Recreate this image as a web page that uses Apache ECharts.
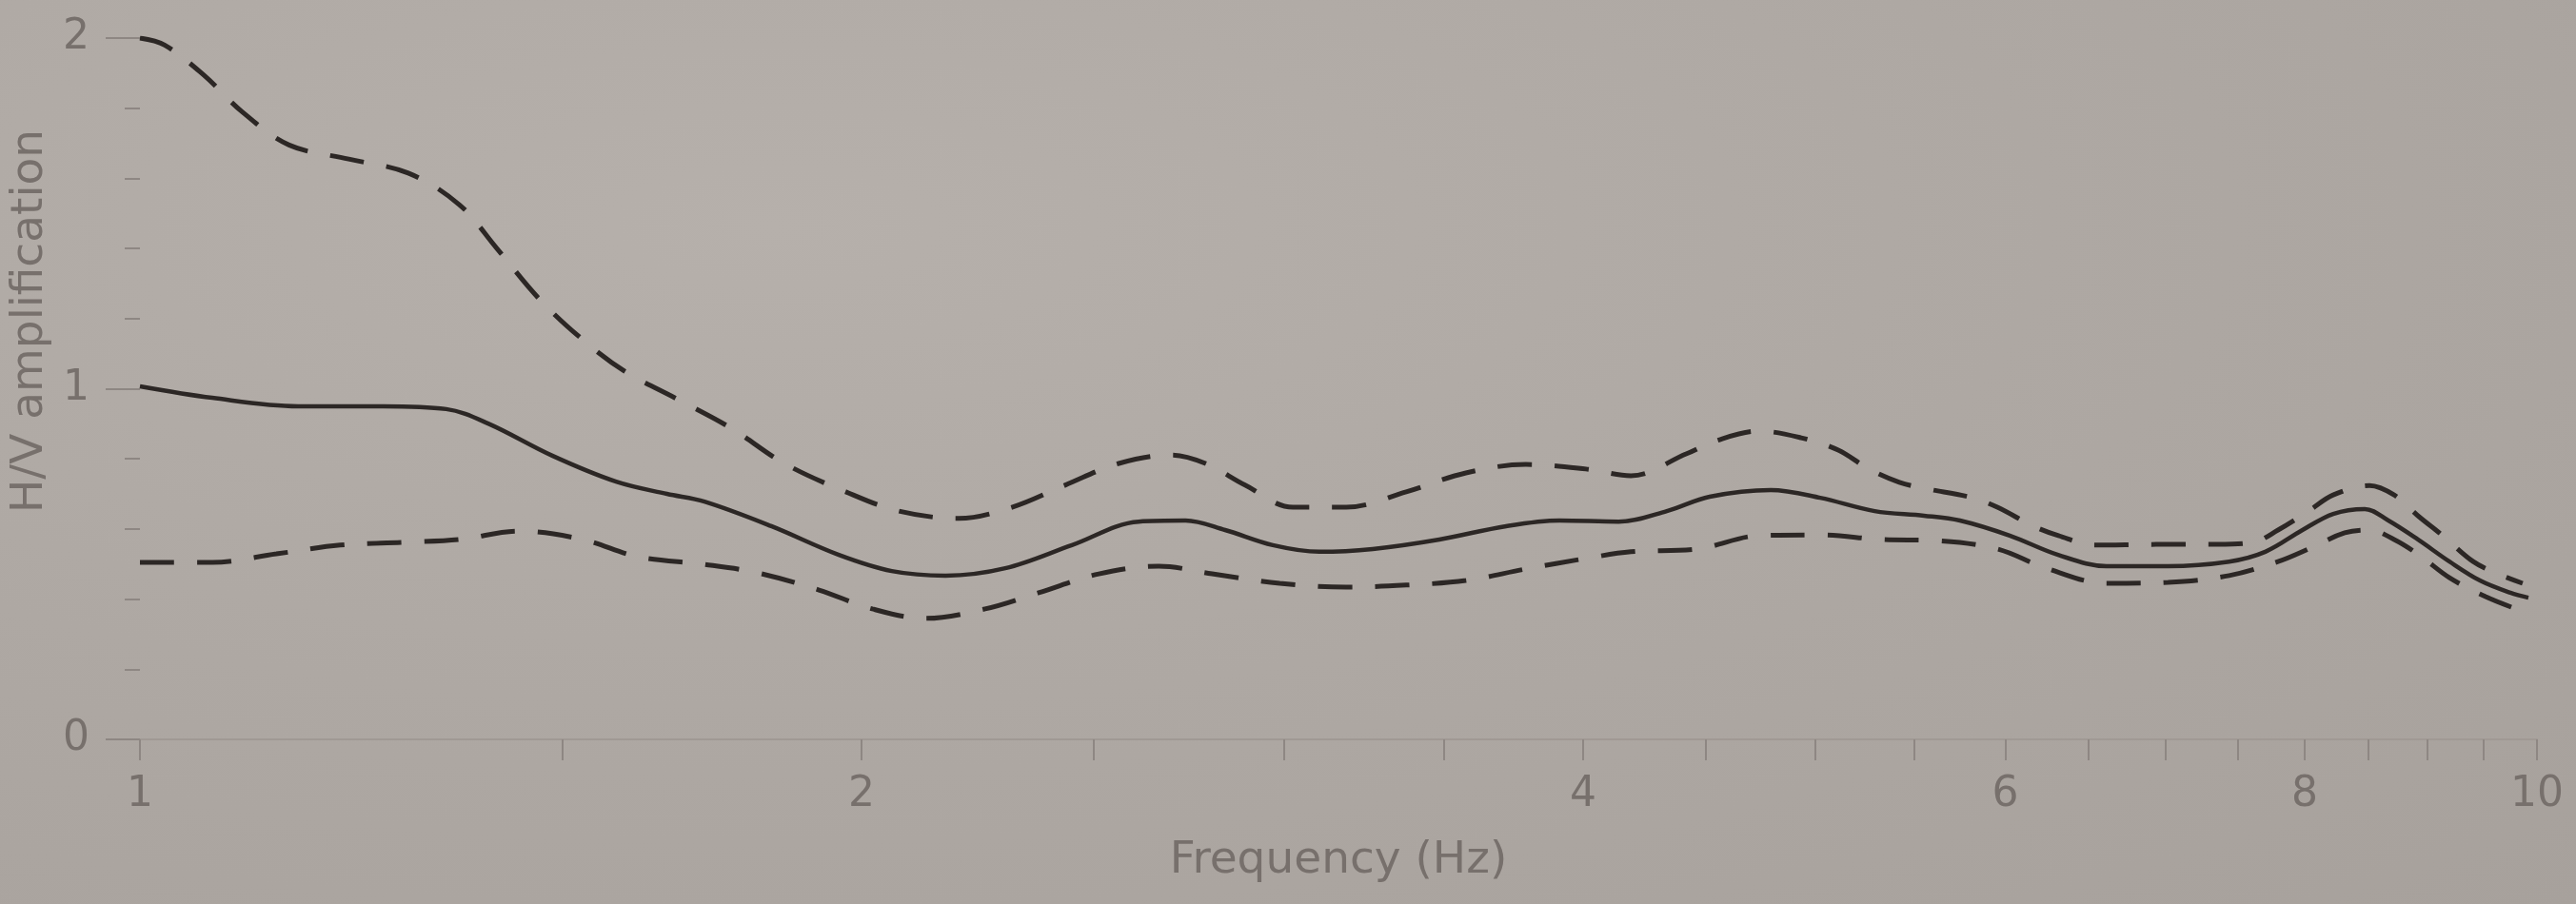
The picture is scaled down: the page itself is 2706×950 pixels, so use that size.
<!DOCTYPE html>
<html><head><meta charset="utf-8">
<script src="https://cdn.jsdelivr.net/npm/echarts@6/dist/echarts.min.js"></script>
<style>
html,body{margin:0;padding:0;width:2706px;height:950px;overflow:hidden;background:#aca6a1;}
#c{width:2706px;height:950px;background:radial-gradient(ellipse at 30% 25%, #b6b0ab 0%, #aea8a3 50%, #a7a19c 100%);}
</style>
</head><body><div id="c"></div>
<script>
// Frequency ticks (Hz) and labels
const xTickFreqs = [1,1.5,2,2.5,3,3.5,4,4.5,5,5.5,6,6.5,7,7.5,8,8.5,9,9.5,10];
const xLabelFreqs = [1,2,4,6,8,10];
const yTicks = [0,1,2];

// Mean H/V curve (solid)
const meanFreq = [1.00,1.072,1.164,1.263,1.342,1.398,1.486,1.58,1.659,1.720,1.834,1.957,2.059,2.168,2.296,2.448,2.61,2.73,2.836,2.969,3.105,3.268,3.484,3.715,3.91,4.139,4.335,4.517,4.79,5.023,5.293,5.55,5.745,6.026,6.313,6.614,7.016,7.44,7.703,7.983,8.222,8.475,8.67,8.919,9.194,9.467,9.748,9.918];
const meanVals = [1.007,0.974,0.95,0.95,0.942,0.90,0.809,0.735,0.70,0.678,0.608,0.526,0.480,0.467,0.488,0.554,0.621,0.624,0.597,0.554,0.535,0.543,0.570,0.608,0.624,0.621,0.651,0.692,0.711,0.689,0.651,0.638,0.624,0.581,0.526,0.494,0.494,0.507,0.535,0.597,0.643,0.657,0.624,0.570,0.507,0.453,0.418,0.404];

// Upper bound (dashed)
const upperFreq = [1.00,1.024,1.063,1.103,1.154,1.222,1.294,1.359,1.409,1.468,1.530,1.593,1.677,1.765,1.857,1.970,2.073,2.196,2.311,2.432,2.561,2.695,2.783,2.891,3.027,3.186,3.375,3.574,3.786,4.011,4.188,4.416,4.547,4.737,4.932,5.111,5.264,5.42,5.55,5.815,5.955,6.166,6.315,6.537,6.936,7.356,7.614,7.798,8.03,8.222,8.514,8.718,8.929,9.135,9.406,9.632,9.863];
const upperVals = [2.00,1.98,1.895,1.79,1.695,1.655,1.615,1.525,1.40,1.255,1.14,1.05,0.969,0.887,0.787,0.706,0.651,0.630,0.662,0.725,0.787,0.811,0.787,0.725,0.662,0.662,0.706,0.760,0.784,0.771,0.752,0.814,0.852,0.879,0.860,0.825,0.771,0.733,0.716,0.689,0.662,0.608,0.581,0.554,0.556,0.556,0.562,0.597,0.651,0.697,0.724,0.697,0.635,0.581,0.507,0.472,0.445];

// Lower bound (dashed)
const lowerFreq = [1.00,1.072,1.140,1.212,1.288,1.359,1.439,1.530,1.613,1.720,1.810,1.920,2.021,2.126,2.252,2.371,2.512,2.661,2.801,2.989,3.186,3.375,3.574,3.786,4.011,4.188,4.464,4.737,5.023,5.327,5.616,5.955,6.237,6.614,7.016,7.44,7.798,8.03,8.314,8.514,8.718,8.929,9.194,9.519,9.802];
const lowerVals = [0.505,0.505,0.529,0.554,0.562,0.570,0.594,0.570,0.521,0.499,0.475,0.426,0.372,0.345,0.372,0.418,0.472,0.494,0.472,0.445,0.434,0.440,0.453,0.486,0.516,0.535,0.543,0.581,0.583,0.570,0.567,0.543,0.489,0.445,0.448,0.467,0.507,0.543,0.589,0.597,0.570,0.526,0.461,0.407,0.372];

const lg = f => Math.log10(f);
const pairs = (fs, vs) => fs.map((f, i) => [lg(f), vs[i]]);

const textColor = '#77706c';
const tickColor = '#8e8783';
const lineColor = '#2c2725';
const font = 'DejaVu Sans';

const chart = echarts.init(document.getElementById('c'), null, {renderer: 'canvas'});
chart.setOption({
  backgroundColor: 'transparent',
  animation: false,
  grid: {left: 147, right: 41, top: 40, bottom: 173, containLabel: false},
  xAxis: {
    type: 'value', min: 0, max: 1,
    name: 'Frequency (Hz)', nameLocation: 'middle', nameGap: 104,
    nameTextStyle: {fontFamily: font, fontSize: 47, color: textColor},
    axisLine: {show: true, lineStyle: {color: '#a09994', width: 2}},
    axisTick: {show: true, length: 22, lineStyle: {color: tickColor, width: 2}, customValues: xTickFreqs.map(lg)},
    axisLabel: {fontFamily: font, fontSize: 44, color: textColor, margin: 37,
      customValues: xLabelFreqs.map(lg),
      formatter: v => String(Math.round(Math.pow(10, v)))},
    splitLine: {show: false}
  },
  yAxis: {
    type: 'value', min: 0, max: 2, interval: 1, offset: 14,
    name: 'H/V amplification', nameLocation: 'middle', nameGap: 74,
    nameTextStyle: {fontFamily: font, fontSize: 47, color: textColor, padding: [0, 0, 0, 142]},
    axisLine: {show: false},
    axisTick: {show: true, length: 36, lineStyle: {color: tickColor, width: 2}},
    minorTick: {show: true, splitNumber: 5, length: 16, lineStyle: {color: tickColor, width: 2}},
    axisLabel: {fontFamily: font, fontSize: 44, color: textColor, margin: 39,
      customValues: yTicks},
    splitLine: {show: false}, minorSplitLine: {show: false}
  },
  series: [
    {type: 'line', name: 'upper', data: pairs(upperFreq, upperVals), showSymbol: false, smooth: 0.35,
     lineStyle: {color: lineColor, width: 5, type: [36, 24]}},
    {type: 'line', name: 'mean', data: pairs(meanFreq, meanVals), showSymbol: false, smooth: 0.35,
     lineStyle: {color: lineColor, width: 4.5}},
    {type: 'line', name: 'lower', data: pairs(lowerFreq, lowerVals), showSymbol: false, smooth: 0.35,
     lineStyle: {color: lineColor, width: 5, type: [36, 24]}}
  ]
});
</script>
</body></html>
